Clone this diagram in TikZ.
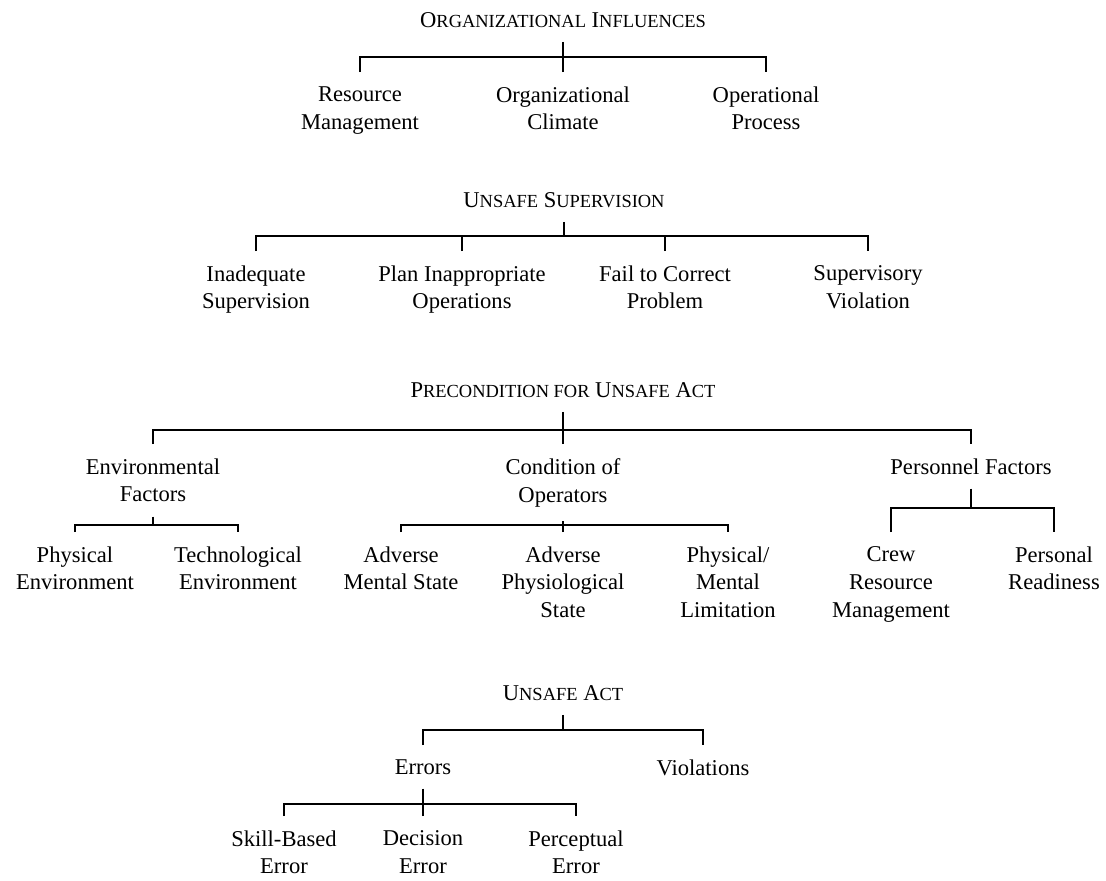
\documentclass[tikz,border=0pt]{standalone}
\usepackage{fontspec}
\setmainfont{Liberation Serif}
\newcommand\smc[1]{{\fontsize{10.5}{12}\selectfont\MakeUppercase{#1}}}
\tikzset{
  head/.style={font=\fontsize{12.85}{15.9}\selectfont, inner xsep=2pt, inner ysep=0.28cm},
  leaf/.style={head, align=center, anchor=north},
  link/.style={line width=1.1pt},
}

\begin{document}
\begin{tikzpicture}[x=0.02cm,y=-0.02cm]
\useasboundingbox (0,0) rectangle (1106,880);
\fill[white] (0,0) rectangle (1106,880);
% Organizational influences
\node[head] (oi) at (563,20) {O\smc{rganizational} I\smc{nfluences}};
\coordinate (oij) at (563,57);
\node[leaf] (rm) at (360,72) {Resource\\Management};
\node[leaf] (oc) at (563,72) {Organizational\\Climate};
\node[leaf] (op) at (766,72) {Operational\\Process};
\draw[link] (oi) -- (oij);
\draw[link] (rm) |- (oij) -| (op);
\draw[link] (oc) -- (oij);
% Unsafe supervision
\node[head] (us) at (564,200) {U\smc{nsafe} S\smc{upervision}};
\coordinate (usj) at (564,236);
\node[leaf] (is) at (256,251) {Inadequate\\Supervision};
\node[leaf] (pio) at (462,251) {Plan Inappropriate\\Operations};
\node[leaf] (fcp) at (665,251) {Fail to Correct\\Problem};
\node[leaf] (sv) at (868,251) {Supervisory\\Violation};
\draw[link] (us) -- (usj);
\draw[link] (is) |- (usj) -| (sv);
\draw[link] (pio) |- (usj);
\draw[link] (fcp) |- (usj);
% Precondition for unsafe act
\node[head] (pua) at (563,390) {P\smc{recondition for} U\smc{nsafe} A\smc{ct}};
\coordinate (puaj) at (563,430);
\node[leaf] (ef) at (153,444) {Environmental\\Factors};
\node[leaf] (co) at (563,444) {Condition of\\Operators};
\node[leaf] (pf) at (971,444) {Personnel Factors};
\draw[link] (pua) -- (puaj);
\draw[link] (ef) |- (puaj) -| (pf);
\draw[link] (co) -- (puaj);
% environmental factors
\coordinate (efj) at (153,525);
\node[leaf] (pe) at (75,532) {Physical\\Environment};
\node[leaf] (te) at (238,532) {Technological\\Environment};
\draw[link] (ef) -- (efj);
\draw[link] (pe) |- (efj) -| (te);
% condition of operators
\coordinate (coj) at (563,525);
\node[leaf] (ams) at (401,532) {Adverse\\Mental State};
\node[leaf] (aps) at (563,532) {Adverse\\Physiological\\State};
\node[leaf] (pml) at (728,532) {Physical/\\Mental\\Limitation};
\draw[link] (co) -- (coj);
\draw[link] (ams) |- (coj) -| (pml);
\draw[link] (aps) -- (coj);
% personnel factors
\coordinate (pfj) at (971,508);
\node[leaf] (crm) at (891,532) {Crew\\Resource\\Management};
\node[leaf] (pr) at (1054,532) {Personal\\Readiness};
\draw[link] (pf) -- (pfj);
\draw[link] (crm) |- (pfj) -| (pr);
% Unsafe act
\node[head] (ua) at (563,693) {U\smc{nsafe} A\smc{ct}};
\coordinate (uaj) at (563,730);
\node[leaf] (er) at (423,745) {Errors};
\node[leaf] (vi) at (703,745) {Violations};
\draw[link] (ua) -- (uaj);
\draw[link] (er) |- (uaj) -| (vi);
% errors
\coordinate (erj) at (423,804);
\node[leaf] (sbe) at (284,816) {Skill-Based\\Error};
\node[leaf] (de) at (423,816) {Decision\\Error};
\node[leaf] (pce) at (576,816) {Perceptual\\Error};
\draw[link] (er) -- (erj);
\draw[link] (sbe) |- (erj) -| (pce);
\draw[link] (de) -- (erj);
\end{tikzpicture}
\end{document}
